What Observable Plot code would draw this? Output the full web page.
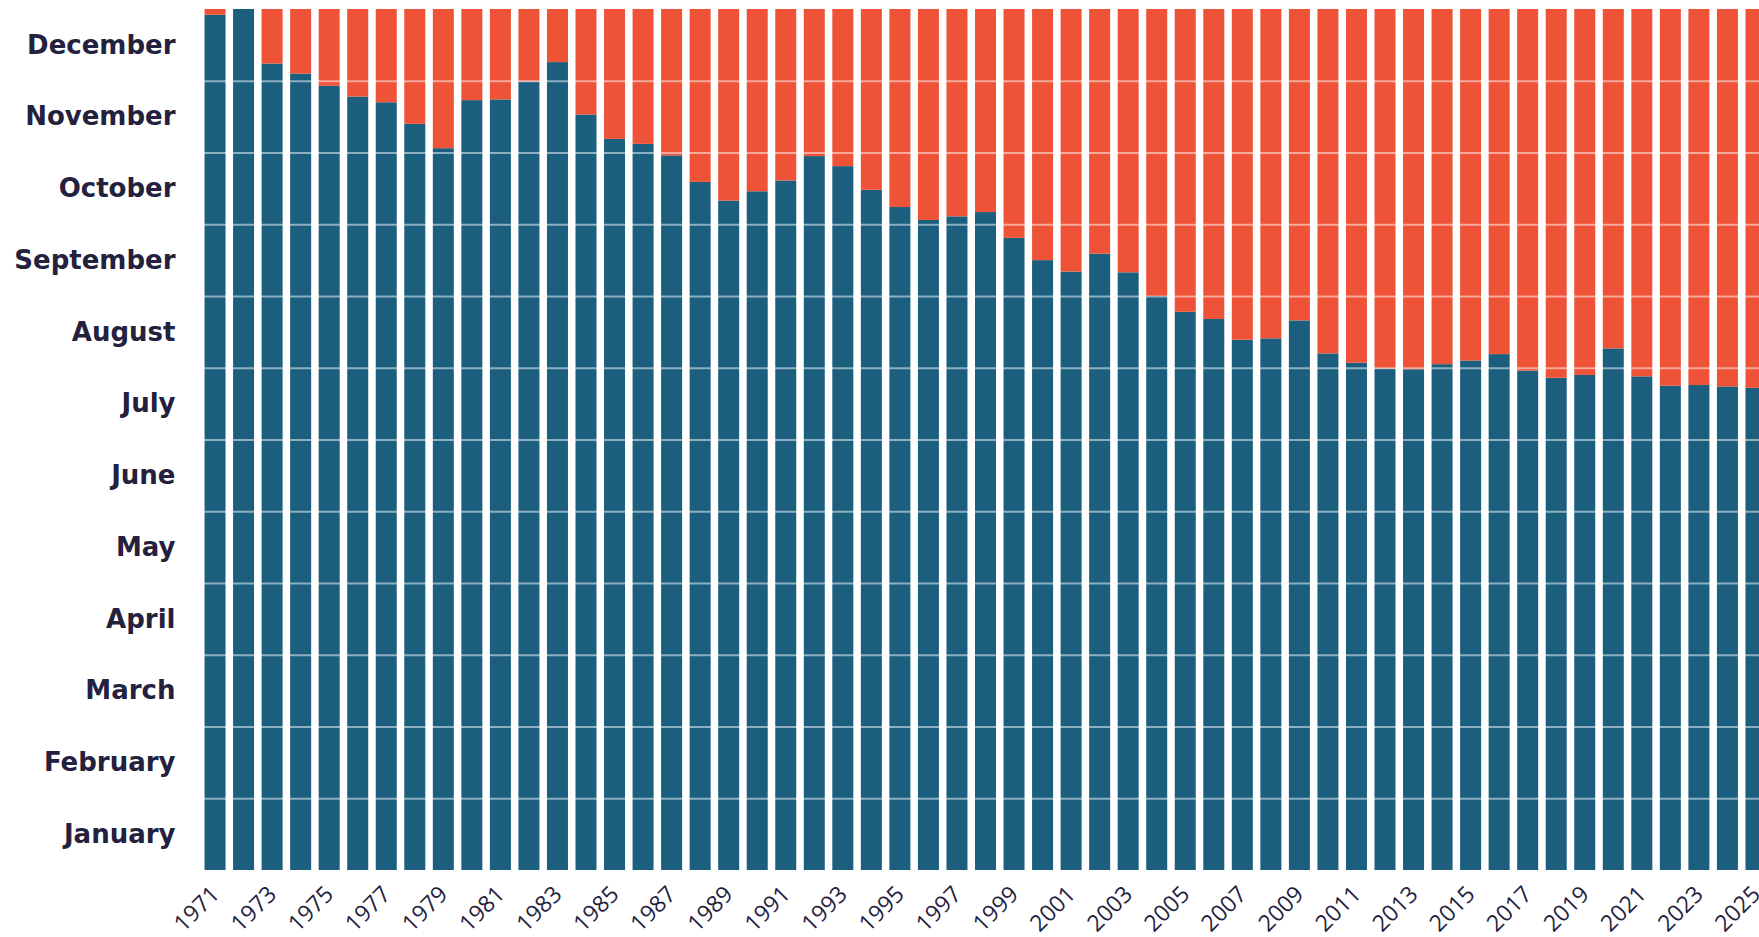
<!DOCTYPE html>
<html><head><meta charset="utf-8">
<script src="https://cdn.jsdelivr.net/npm/d3@7"></script>
<script src="https://cdn.jsdelivr.net/npm/@observablehq/plot@0.6"></script>
<style>html,body{margin:0;padding:0;overflow:hidden;background:#fff}svg{max-width:none!important}</style>
</head><body><div id="chart"></div>
<script>
const months = ["January","February","March","April","May","June","July","August","September","October","November","December"];
const years = [1971,1972,1973,1974,1975,1976,1977,1978,1979,1980,1981,1982,1983,1984,1985,1986,1987,1988,1989,1990,1991,1992,1993,1994,1995,1996,1997,1998,1999,2000,2001,2002,2003,2004,2005,2006,2007,2008,2009,2010,2011,2012,2013,2014,2015,2016,2017,2018,2019,2020,2021,2022,2023,2024,2025];
// months elapsed (0 = start of January, 12 = end of December) covered by the blue part
const blueTop = [11.92,12.00,11.24,11.10,10.93,10.78,10.70,10.40,10.06,10.73,10.74,10.99,11.26,10.53,10.19,10.12,9.96,9.59,9.33,9.46,9.61,9.95,9.81,9.48,9.24,9.06,9.11,9.17,8.81,8.50,8.34,8.59,8.33,8.00,7.78,7.68,7.39,7.41,7.66,7.20,7.07,6.99,6.98,7.05,7.10,7.19,6.96,6.86,6.90,7.27,6.88,6.75,6.76,6.74,6.72];
const yearTicks = years.filter((y, i) => i % 2 === 0);
const blue = "#1b5e7e", red = "#ee5237", ink = "#23213d";

const data = years.map((year, i) => ({year, v: blueTop[i]}));
const monthBounds = months.slice(1).map((m, i) => i + 1);
const monthCenters = months.map((m, i) => i + 0.5);

const chart = Plot.plot({
  width: 1790, height: 937,
  marginLeft: 197, marginRight: 16, marginTop: 9, marginBottom: 67,
  x: {type: "band", domain: years, padding: 0.264, round: false, label: null},
  y: {domain: [0, 12], label: null},
  style: {background: "#fff", overflow: "visible", maxWidth: "none"},
  marks: [
    Plot.barY(data, {x: "year", y1: 0, y2: "v", fill: blue}),
    Plot.barY(data, {x: "year", y1: "v", y2: 12, fill: red}),
    Plot.ruleY(monthBounds, {stroke: "#fff", strokeOpacity: 0.5, strokeWidth: 2}),
    Plot.axisY(monthCenters, {label: null, tickSize: 0, tickPadding: 22, tickFormat: d => months[Math.floor(d)], fontSize: 26, fontWeight: "bold", fontFamily: "DejaVu Sans", color: ink}),
    Plot.axisX(yearTicks, {label: null, tickSize: 0, tickPadding: 20, tickRotate: -45, tickFormat: d => String(d), fontSize: 23, fontFamily: "Open Sans", color: ink})
  ]
});
document.getElementById("chart").appendChild(chart);
</script>
</body></html>
